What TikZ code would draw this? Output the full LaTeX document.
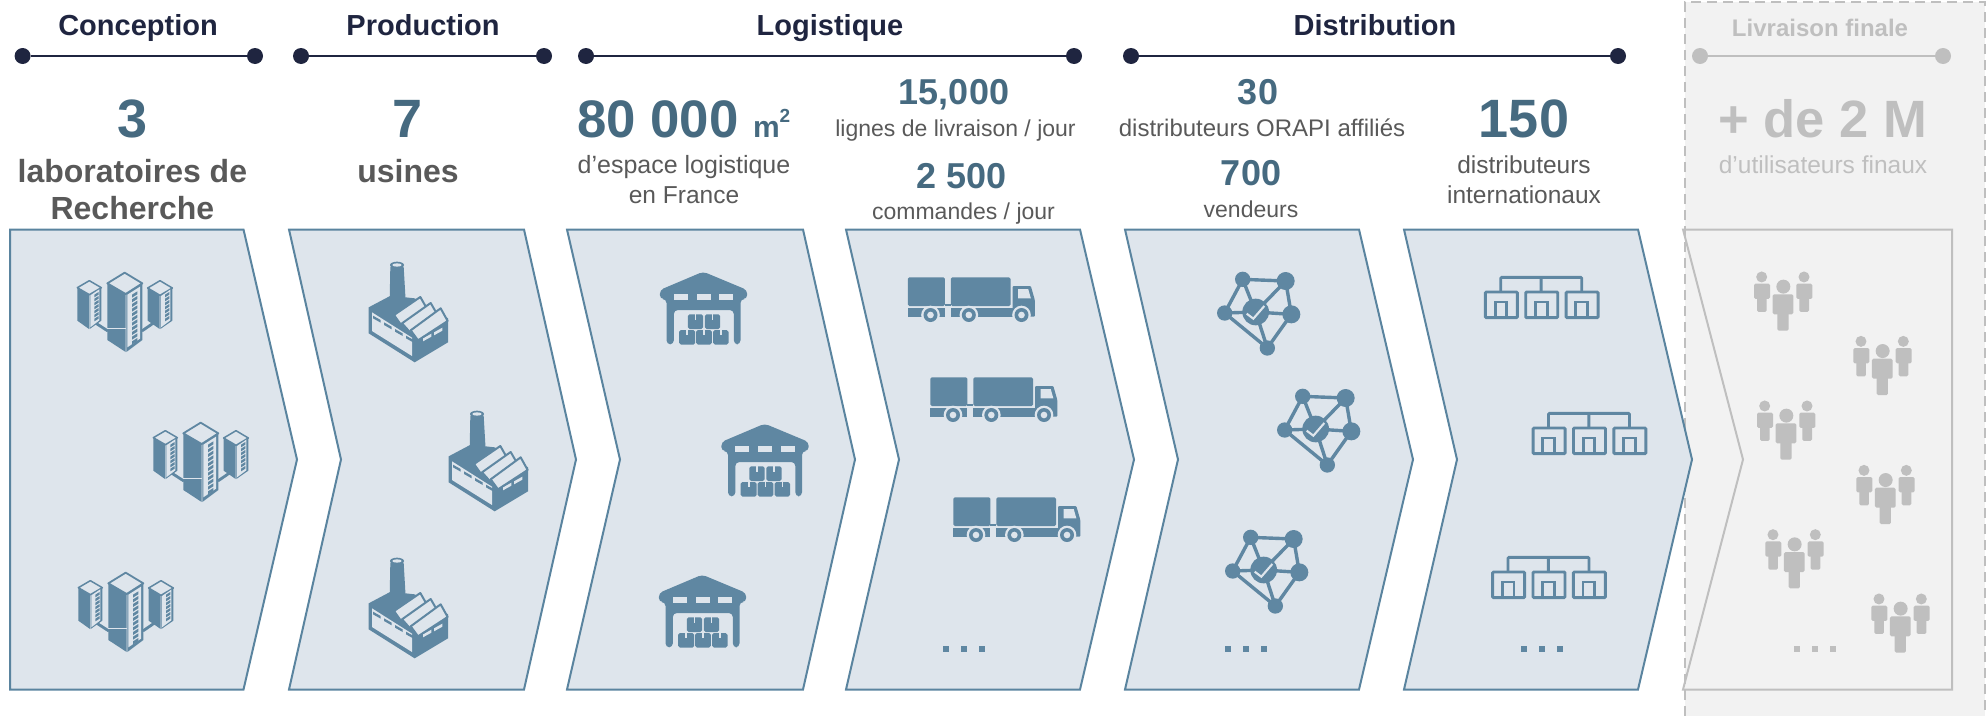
\documentclass[tikz,border=0pt]{standalone}
\usepackage{fontspec}
\setmainfont{Liberation Sans}
\definecolor{navy}{HTML}{1F2540}
\definecolor{numc}{HTML}{466A80}
\definecolor{txtc}{HTML}{595959}
\definecolor{icon}{HTML}{5F87A2}
\definecolor{chevf}{HTML}{DEE5EC}
\definecolor{chevs}{HTML}{5A849F}
\definecolor{gr}{HTML}{BFBFBF}
\definecolor{grbg}{HTML}{F2F2F2}
\newcommand{\fs}[1]{\fontsize{#1}{#1}\selectfont}
\tikzset{
  txt/.style={anchor=base,inner sep=0pt,outer sep=0pt},
  hd/.style={txt,text=navy,font=\fs{29}\bfseries},
  big/.style={txt,text=numc,font=\fs{54}\bfseries},
  midn/.style={txt,text=numc,font=\fs{36}\bfseries},
  labt/.style={txt,text=txtc,font=\fs{32}\bfseries},
  smt/.style={txt,text=txtc,font=\fs{24.5}},
  smta/.style={txt,text=txtc,font=\fs{23}},
  dotn/.style={circle,fill=navy,minimum size=16pt,inner sep=0pt},
  gdot/.style={circle,fill=gr,minimum size=16pt,inner sep=0pt},
  hline/.style={draw=navy,line width=2.8pt},
  chev/.style={fill=chevf,draw=chevs,line width=2pt,line join=miter},
  ic/.style={x=0.33333pt,y=-0.33333pt},
  edot/.style={minimum size=5.5pt,inner sep=0pt,fill=icon},
  lab/.pic={
    \begin{scope}[ic,shift={(-192,-156)}]
      \draw[icon,line width=2.8pt,line cap=round] (105,188)--(142,212) (247,212)--(282,188);
      \foreach \tx/\ty/\tw/\th/\td in {88/62/36/21/120, 300/62/37/22/120}{
        \fill[chevf,draw=icon,line width=1.5pt,line join=round] (\tx,\ty)--(\tx+\tw,\ty+\th)--(\tx,\ty+2*\th)--(\tx-\tw,\ty+\th)--cycle;
        \fill[icon] (\tx-\tw,\ty+\th)--(\tx-1,\ty+2*\th+1)--(\tx-1,\ty+145)--(\tx-\tw,\ty+\td)--cycle;
        \fill[icon] (\tx+\tw,\ty+\th)--(\tx+1,\ty+2*\th+1)--(\tx+1,\ty+145)--(\tx+\tw,\ty+\td)--cycle;
        \fill[chevf] (\tx+3,\ty+2*\th+2)--(\tx+\tw-6,\ty+\th+5)--(\tx+\tw-6,\ty+\td-1)--(\tx+3,\ty+140)--cycle;
        \foreach \k in {0,...,6}
          \fill[icon] (\tx+15,\ty+42+\k*12)--(\tx+28,\ty+34+\k*12)--(\tx+28,\ty+42+\k*12)--(\tx+15,\ty+50+\k*12)--cycle;
      }
      \fill[chevf,draw=icon,line width=1.8pt,line join=round] (194,38)--(247,70)--(197,102)--(142,70)--cycle;
      \fill[icon] (142,70)--(197,102)--(197,276)--(142,240)--cycle;
      \fill[icon] (247,70)--(199,102)--(199,276)--(247,240)--cycle;
      \fill[chevf] (202,104)--(240,80)--(240,236)--(202,262)--cycle;
      \draw[chevf,line width=.35pt] (142,205)--(199,205);
      \foreach \k in {0,...,10}
        \fill[icon] (216,104+\k*14)--(232,94+\k*14)--(232,103+\k*14)--(216,113+\k*14)--cycle;
    \end{scope}
  },
  factory/.pic={
    \begin{scope}[ic,shift={(-160,-171)}]
      \fill[icon] (107,35)--(147,35)--(153,138)--(105,138)--cycle;
      \fill[icon] (127,30) ellipse (21 and 10);
      \fill[chevf] (127,30) ellipse (14 and 5);
      \fill[icon,line join=round] (42,157)--(108,122)--(180,130)--(280,190)--(280,262)--(180,322)--(42,235)--cycle;
      \fill[chevf] (52,172)--(172,248)--(172,303)--(52,228)--cycle;
      \foreach \k in {0,1,2,3}
        \fill[icon] (55+\k*33,182+\k*20)--(78+\k*33,195+\k*20)--(78+\k*33,203+\k*20)--(55+\k*33,190+\k*20)--cycle;
      \foreach \d in {0,1}
        \fill[chevf] (205+\d*33,250-\d*18)--(230+\d*33,236-\d*18)--(230+\d*33,245-\d*18)--(205+\d*33,259-\d*18)--cycle;
      \draw[fill=chevf,draw=icon,line width=2pt,line join=round]
         (118,180)--(197,126)--(218,163)--(142,214)--cycle;
      \draw[fill=chevf,draw=icon,line width=2pt,line join=round]
         (142,205)--(228,144)--(250,182)--(168,234)--cycle;
      \draw[fill=chevf,draw=icon,line width=2pt,line join=round]
         (168,226)--(258,160)--(279,198)--(190,256)--cycle;
    \end{scope}
  },
  warehouse/.pic={
    \begin{scope}[ic,shift={(-159,-129)}]
      \fill[icon,rounded corners=4pt] (28,75)--(158,20)--(290,75)--(290,102)--(270,102)--(270,238)--(250,238)--(250,135)--(70,135)--(70,238)--(48,238)--(48,102)--(28,102)--cycle;
      \foreach \a in {70,138,206}
        \fill[chevf] (\a,86) rectangle (\a+42,104);
      \foreach \a/\b/\c in {112/148/158,163/148/209,86/195/134,137/195/184,188/195/234}{
        \fill[icon,rounded corners=1.8pt] (\a,\b) rectangle (\c,\b+44);
        \fill[chevf] (\a/2+\c/2-2.5,\b) rectangle (\a/2+\c/2+2.5,\b+16);
      }
    \end{scope}
  },
  truck/.pic={
    \begin{scope}[ic,shift={(-215,-105)}]
      \fill[icon,rounded corners=1.5pt] (24,37) rectangle (135,123);
      \fill[icon,rounded corners=1.5pt] (153,37) rectangle (332,123);
      \fill[icon] (135,117) rectangle (153,123);
      \fill[icon] (24,130) rectangle (135,155);
      \fill[icon] (153,130) rectangle (338,155);
      \fill[icon,rounded corners=1pt] (338,155)--(338,63)--(393,63)--(405,105)--(405,155)--cycle;
      \fill[chevf] (355,72)--(385,72)--(393,100)--(355,100)--cycle;
      \foreach \w in {92,207,365}{
        \fill[chevf] (\w,150) circle (28);
        \fill[icon] (\w,150) circle (21);
        \fill[chevf] (\w,150) circle (10);
      }
    \end{scope}
  },
  network/.pic={
    \begin{scope}[ic,shift={(-165,-146)}]
      \coordinate (tl) at (116,42); \coordinate (tr) at (245,47);
      \coordinate (rr) at (262,147); \coordinate (ll) at (62,143);
      \coordinate (bb) at (190,248); \coordinate (hh) at (155,140);
      \draw[icon,line width=3.4pt] (tl)--(tr)--(rr)--(bb)--(ll)--cycle
        (tl)--(hh) (tr)--(hh) (ll)--(hh) (rr)--(hh) (bb)--(hh);
      \fill[icon] (tl) circle (23) (tr) circle (27) (rr) circle (27) (ll) circle (23) (bb) circle (23) (hh) circle (40);
      \draw[chevf,line width=2.1pt] (128,145)--(148,160)--(181,122);
    \end{scope}
  },
  orgi/.pic={
    \begin{scope}[ic,shift={(-215,-84)}]
      \draw[icon,line width=2.9pt,rounded corners=1pt] (92,66)--(92,22)--(335,22)--(335,66) (213,22)--(213,66);
      \foreach \a in {46,167,288}{
        \draw[icon,line width=2.9pt,rounded corners=1pt] (\a,66) rectangle (\a+96,143);
        \draw[icon,line width=2.9pt] (\a+29,143)--(\a+29,96)--(\a+64,96)--(\a+64,143);
      }
    \end{scope}
  },
  people/.pic={
    \begin{scope}[ic,shift={(-309,-274)}]
      \fill[gr] (310,230) circle (21);
      \fill[gr,rounded corners=1.5pt] (278,253) rectangle (340,313);
      \fill[gr,rounded corners=1.5pt] (292,300) rectangle (326,362);
      \foreach \o in {0,127}{
        \fill[gr] (245+\o,201) circle (16.5);
        \fill[gr,rounded corners=1.5pt] (222+\o,221) rectangle (270+\o,267);
        \fill[gr,rounded corners=1.5pt] (231+\o,255) rectangle (260+\o,306);
      }
    \end{scope}
  }
}
\newcommand{\chevshape}[5][chev]{%
  \path[#1] (#2,229.5)--(#4,229.5)--(#5,459.5)--(#4,689.5)--(#2,689.5)--(#3,459.5)--cycle;}
\begin{document}
\begin{tikzpicture}[x=1pt,y=-1pt]
\useasboundingbox (0,0) rectangle (1988,715);
% final delivery band
\path[fill=grbg] (1685,2) rectangle (1985,716);
\draw[gr,line width=2pt,dash pattern=on 10pt off 6pt] (1685,716)--(1685,2)--(1985,2)--(1985,716);
% chevrons
\chevshape{10}{10}{243.5}{297}
\chevshape{289}{341}{524}{576}
\chevshape{567}{620}{803}{855}
\chevshape{846}{899}{1080}{1134}
\chevshape{1125}{1178}{1359}{1413}
\chevshape{1404}{1457}{1638}{1692}
\path[draw=gr,line width=2pt] (1683,229.5)--(1952,229.5)--(1952,689.5)--(1683,689.5)--(1743,459.5)--cycle;
% headers
\node[hd] (h1) at (138,35.5) {Conception};
\node[hd] (h2) at (423,35.5) {Production};
\node[hd] (h3) at (830,35.5) {Logistique};
\node[hd] (h4) at (1375,35.5) {Distribution};
\node[txt,text=gr,font=\fs{24}\bfseries] (h5) at (1820,36) {Livraison finale};
\node[dotn] (a1) at (22.6,56) {}; \node[dotn] (a2) at (255,56) {};
\node[dotn] (b1) at (301,56) {}; \node[dotn] (b2) at (544,56) {};
\node[dotn] (c1) at (586,56) {}; \node[dotn] (c2) at (1074,56) {};
\node[dotn] (d1) at (1131,56) {}; \node[dotn] (d2) at (1618,56) {};
\node[gdot] (e1) at (1700,56) {}; \node[gdot] (e2) at (1943,56) {};
\draw[hline] (a1)--(a2); \draw[hline] (b1)--(b2); \draw[hline] (c1)--(c2); \draw[hline] (d1)--(d2);
\draw[gr,line width=2.8pt] (e1)--(e2);
% figures
\node[big] (n1) at (132.4,137) {3};
\node[labt] (t1) at (132.4,182) {laboratoires de};
\node[labt] (t1b) at (132.4,219) {Recherche};
\node[big] (n2) at (408,137) {7};
\node[labt] (t2) at (408,182) {usines};
\node[big,anchor=base west,font=\fs{52.8}\bfseries] (n3) at (577,137) {80 000};
\node[txt,anchor=base west,text=numc,font=\fs{30}\bfseries] (n3b) at (753,137) {m\raisebox{.5em}{\fs{19}2}};
\node[smt,font=\fs{25}] (t3) at (684,173) {d’espace logistique};
\node[smt] (t3b) at (684,203) {en France};
\node[midn] (n4) at (954,104) {15,000};
\node[smta] (t4) at (955.5,136) {lignes de livraison / jour};
\node[midn] (n4b) at (962,188) {2 500};
\node[smta] (t4b) at (963.5,219) {commandes / jour};
\node[midn] (n5) at (1258,104) {30};
\node[smt,font=\fs{24}] (t5) at (1262,136) {distributeurs ORAPI affiliés};
\node[midn] (n5b) at (1251,185) {700};
\node[smta] (t5b) at (1251,217) {vendeurs};
\node[big] (n6) at (1524,137) {150};
\node[smt] (t6) at (1524,173) {distributeurs};
\node[smt] (t6b) at (1524,203) {internationaux};
\node[big,text=gr,font=\fs{52.5}\bfseries] (n7) at (1823,137) {+ de 2 M};
\node[smt,text=gr] (t7) at (1823,173) {d’utilisateurs finaux};
% icons
\pic at (124,312) {lab}; \pic at (200,462) {lab}; \pic at (125,612) {lab};
\pic at (408,312) {factory}; \pic at (488,461) {factory}; \pic at (408,608) {factory};
\pic at (703.5,308) {warehouse}; \pic at (765,460) {warehouse}; \pic at (702.5,611) {warehouse};
\pic at (971.5,300) {truck}; \pic at (994,400) {truck}; \pic at (1017,520) {truck};
\pic at (1259,314) {network}; \pic at (1319,431) {network}; \pic at (1267,572) {network};
\pic at (1541.7,298) {orgi}; \pic at (1589.5,434) {orgi}; \pic at (1549,578) {orgi};
\pic at (1783,301.3) {people}; \pic at (1882.3,365.7) {people}; \pic at (1786,430.3) {people};
\pic at (1885.3,494.7) {people}; \pic at (1794.3,559) {people}; \pic at (1900.3,623.3) {people};
% ellipsis dots
\foreach \cx/\nm in {964/p,1246/q,1542/r}
  \foreach \o/\k in {-18/1,0/2,18/3}
    \node[edot] (\nm\k) at (\cx+\o,649) {};
\foreach \o/\k in {-18/1,0/2,18/3}
  \node[edot,fill=gr] (s\k) at (1815+\o,649) {};
\end{tikzpicture}
\end{document}
